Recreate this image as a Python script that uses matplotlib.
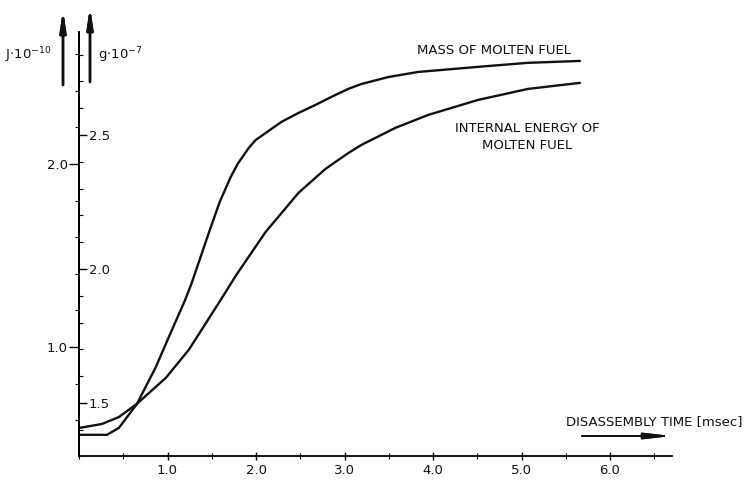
import matplotlib
matplotlib.use("Agg")
import matplotlib.pyplot as plt
from matplotlib.ticker import FixedLocator, MultipleLocator

plt.rcParams['font.family'] = ['DejaVu Sans']

# Disassembly time (msec) and mass of molten fuel (g * 1e-7)
mass_time = [0.0, 0.316, 0.451, 0.654, 0.868, 1.015, 1.195, 1.274, 1.466, 1.590,
             1.714, 1.793, 1.917, 1.996, 2.108, 2.289, 2.480, 2.672, 2.852, 3.044,
             3.191, 3.495, 3.833, 4.510, 5.073, 5.659]
mass_g = [1.381, 1.381, 1.407, 1.496, 1.634, 1.746, 1.881, 1.948, 2.134, 2.250,
          2.343, 2.392, 2.451, 2.481, 2.507, 2.549, 2.582, 2.612, 2.642, 2.672,
          2.690, 2.716, 2.735, 2.754, 2.769, 2.776]

# Disassembly time (msec) and internal energy of molten fuel (J * 1e-10)
energy_time = [0.0, 0.259, 0.451, 0.654, 0.981, 1.240, 1.601, 1.770, 2.108, 2.480,
               2.785, 3.044, 3.191, 3.574, 3.946, 4.510, 5.073, 5.659]
energy_j = [0.557, 0.579, 0.617, 0.689, 0.831, 0.984, 1.257, 1.388, 1.628, 1.842,
            1.973, 2.060, 2.104, 2.197, 2.268, 2.350, 2.410, 2.443]

x_ticks = [1.0, 2.0, 3.0, 4.0, 5.0, 6.0]
x_tick_labels = ["1.0", "2.0", "3.0", "4.0", "5.0", "6.0"]
j_ticks = [1.0, 2.0]
j_tick_labels = ["1.0", "2.0"]
g_ticks = [1.5, 2.0, 2.5]
g_tick_labels = ["1.5", "2.0", "2.5"]

W, H = 752, 480
fig = plt.figure(figsize=(W / 100, H / 100), dpi=100)

left_px, right_px, top_px, bottom_px = 79, 672, 32, 456
ax = fig.add_axes([left_px / W, 1 - bottom_px / H,
                   (right_px - left_px) / W, (bottom_px - top_px) / H])
ax.set_xlim(0, 6.7)
ax.set_ylim(0.404, 2.721)

for s in ("top", "right"):
    ax.spines[s].set_visible(False)
for s in ("left", "bottom"):
    ax.spines[s].set_linewidth(1.3)

ink = "#111111"
fs = 9.5

ax.xaxis.set_major_locator(FixedLocator(x_ticks))
ax.set_xticklabels(x_tick_labels, fontsize=fs, color=ink)
ax.xaxis.set_minor_locator(MultipleLocator(0.5))
ax.tick_params(axis="x", which="major", direction="inout", length=6, width=1, pad=3)
ax.tick_params(axis="x", which="minor", direction="inout", length=4, width=0.8)

ax.yaxis.set_major_locator(FixedLocator(j_ticks))
ax.set_yticklabels(j_tick_labels, fontsize=fs, color=ink)
ax.yaxis.set_minor_locator(MultipleLocator(0.2))
ax.tick_params(axis="y", which="major", direction="out", length=7, width=1, pad=1)
ax.tick_params(axis="y", which="minor", direction="out", length=3, width=0.8)

# second scale for the mass, sharing the same vertical line
ax2 = ax.twinx()
ax2.set_ylim(1.302, 2.884)
for s in ("top", "left", "bottom"):
    ax2.spines[s].set_visible(False)
ax2.spines["right"].set_position(("axes", 0))
ax2.spines["right"].set_linewidth(1.3)
ax2.yaxis.set_major_locator(FixedLocator(g_ticks))
ax2.set_yticklabels(g_tick_labels, fontsize=fs, color=ink)
ax2.yaxis.set_minor_locator(MultipleLocator(0.1))
ax2.tick_params(axis="y", which="major", direction="out", length=6, width=1, pad=1)
ax2.tick_params(axis="y", which="minor", direction="out", length=3, width=0.8)

ax2.plot(mass_time, mass_g, color=ink, lw=1.7, solid_joinstyle="round",
         solid_capstyle="round")
ax.plot(energy_time, energy_j, color=ink, lw=1.7, solid_joinstyle="round",
        solid_capstyle="round")

def fx(px):
    return px / W

def fy(py):
    return 1 - py / H

fig.text(fx(417), fy(50), "MASS OF MOLTEN FUEL", fontsize=fs, color=ink,
         ha="left", va="center")
fig.text(fx(527), fy(137), "INTERNAL ENERGY OF\nMOLTEN FUEL", fontsize=fs,
         color=ink, ha="center", va="center", linespacing=1.35)
fig.text(fx(743), fy(422), "DISASSEMBLY TIME [msec]", fontsize=fs, color=ink,
         ha="right", va="center")

# axis-direction arrows
arrow_kw = dict(arrowstyle="-|>,head_length=1.2,head_width=0.18",
                color=ink, lw=1.8, shrinkA=0, shrinkB=0)
fig.add_artist(plt.annotate("", xy=(fx(63), fy(10)), xytext=(fx(63), fy(85)),
                            xycoords="figure fraction", textcoords="figure fraction",
                            arrowprops=arrow_kw))
fig.add_artist(plt.annotate("", xy=(fx(90), fy(7)), xytext=(fx(90), fy(82)),
                            xycoords="figure fraction", textcoords="figure fraction",
                            arrowprops=arrow_kw))
fig.add_artist(plt.annotate("", xy=(fx(672), fy(436)), xytext=(fx(582), fy(436)),
                            xycoords="figure fraction", textcoords="figure fraction",
                            arrowprops=dict(arrowstyle="-|>,head_length=1.6,head_width=0.18",
                                            color=ink, lw=1.3, shrinkA=0, shrinkB=0)))

fig.text(fx(52), fy(55), r"J$\cdot$10$^{-10}$", fontsize=fs, color=ink,
         ha="right", va="center")
fig.text(fx(98), fy(55), r"g$\cdot$10$^{-7}$", fontsize=fs, color=ink,
         ha="left", va="center")

fig.savefig("out.png", dpi=100, facecolor="white")
